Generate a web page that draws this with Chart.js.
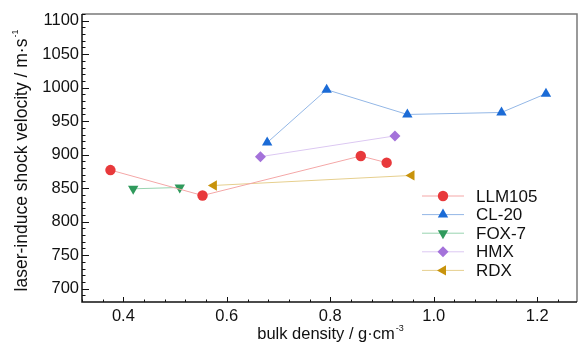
<!DOCTYPE html>
<html>
<head>
<meta charset="utf-8">
<script src="https://cdn.jsdelivr.net/npm/chart.js@4/dist/chart.umd.min.js"></script>
<style>
  html, body { margin: 0; padding: 0; background: #fff; }
  #wrap { width: 583px; height: 347px; }
</style>
</head>
<body>
<div id="wrap"><canvas id="c" width="583" height="347"></canvas></div>
<script>
// values
const seriesNames = ['LLM105', 'CL-20', 'FOX-7', 'HMX', 'RDX'];

const llm105X = [0.375, 0.553, 0.859, 0.909];
const llm105Y = [877, 839, 898, 888];

const cl20X = [0.678, 0.793, 0.949, 1.131, 1.217];
const cl20Y = [918, 997, 960, 963, 991];

const fox7X = [0.419, 0.509];
const fox7Y = [849, 851];

const hmxX = [0.665, 0.925];
const hmxY = [897, 928];

const rdxX = [0.575, 0.957];
const rdxY = [854, 869];

const xTicks = [0.4, 0.6, 0.8, 1.0, 1.2];
const yTicks = [700, 750, 800, 850, 900, 950, 1000, 1050, 1100];

const FONT = '"Liberation Sans", Arial, sans-serif';

const toPoints = (xs, ys) => xs.map((x, i) => ({ x: x, y: ys[i] }));

function makeSet(label, xs, ys, marker, line, style, rot, r) {
  return {
    label: label,
    data: toPoints(xs, ys),
    borderColor: line,
    borderWidth: 1,
    backgroundColor: marker,
    pointBackgroundColor: marker,
    pointBorderColor: marker,
    pointBorderWidth: 0,
    pointStyle: style,
    pointRotation: rot,
    pointRadius: r,
    showLine: true,
    tension: 0
  };
}

const datasets = [
  makeSet(seriesNames[0], llm105X, llm105Y, '#e8393b', '#f4a7a7', 'circle', 0, 5.2),
  makeSet(seriesNames[1], cl20X, cl20Y, '#1b6bd6', '#93b7e6', 'triangle', 0, 6),
  makeSet(seriesNames[2], fox7X, fox7Y, '#2f9a5c', '#99d4b0', 'triangle', 180, 6),
  makeSet(seriesNames[3], hmxX, hmxY, '#a472da', '#dcc8f2', 'rectRot', 0, 5.5),
  makeSet(seriesNames[4], rdxX, rdxY, '#c8930c', '#e6cf8e', 'triangle', 270, 6)
];

// frame, inward ticks, titles and legend
const framePlugin = {
  id: 'frame',
  afterDraw(chart) {
    const ctx = chart.ctx;
    const a = chart.chartArea;
    const xs = chart.scales.x;
    const ys = chart.scales.y;
    ctx.save();

    // top / right gray edges
    ctx.strokeStyle = '#7a7a7a';
    ctx.lineWidth = 1.5;
    ctx.beginPath();
    ctx.moveTo(a.left, a.top);
    ctx.lineTo(a.right, a.top);
    ctx.lineTo(a.right, a.bottom);
    ctx.stroke();

    // left / bottom black axes
    ctx.strokeStyle = '#111';
    ctx.beginPath();
    ctx.moveTo(a.left, a.top);
    ctx.lineTo(a.left, a.bottom);
    ctx.lineTo(a.right, a.bottom);
    ctx.stroke();

    // y ticks, major every 50, minor every 10
    ctx.lineWidth = 1;
    ctx.beginPath();
    for (let v = 690; v <= 1110; v += 10) {
      const py = Math.round(ys.getPixelForValue(v)) + 0.5;
      if (py < a.top || py > a.bottom) continue;
      const len = (v % 50 === 0) ? 7 : 3.5;
      ctx.moveTo(a.left, py);
      ctx.lineTo(a.left + len, py);
    }
    // x ticks, major every 0.2, minor every 0.04
    for (let i = 8; i <= 32; i++) {
      const v = i * 0.04;
      const px = Math.round(xs.getPixelForValue(v)) + 0.5;
      if (px < a.left || px > a.right) continue;
      const len = (i % 5 === 0) ? 5 : 2.5;
      ctx.moveTo(px, a.bottom);
      ctx.lineTo(px, a.bottom - len);
    }
    ctx.stroke();

    // axis titles
    ctx.fillStyle = '#111';
    ctx.textBaseline = 'alphabetic';
    ctx.font = '16.5px ' + FONT;
    const xt = 'bulk density / g\u00b7cm';
    const xw = ctx.measureText(xt).width;
    let x0 = 330 - (xw + 8) / 2;
    ctx.textAlign = 'left';
    ctx.fillText(xt, x0, 339);
    ctx.font = '9px ' + FONT;
    ctx.fillText('-3', x0 + xw + 1, 331);

    ctx.save();
    ctx.translate(27, 161);
    ctx.rotate(-Math.PI / 2);
    ctx.font = '17.5px ' + FONT;
    const yt = 'laser-induce shock velocity / m\u00b7s';
    const yw = ctx.measureText(yt).width;
    let y0 = -(yw + 8) / 2;
    ctx.fillText(yt, y0, 0);
    ctx.font = '9px ' + FONT;
    ctx.fillText('-1', y0 + yw + 1, -9);
    ctx.restore();

    // legend
    const lx1 = 422, lx2 = 464, mx = 443, tx = 476;
    chart.data.datasets.forEach((ds, i) => {
      const ly = 196 + i * 18.6;
      ctx.strokeStyle = ds.borderColor;
      ctx.lineWidth = 1;
      ctx.beginPath();
      ctx.moveTo(lx1, ly);
      ctx.lineTo(lx2, ly);
      ctx.stroke();
      ctx.fillStyle = ds.pointBackgroundColor;
      ctx.strokeStyle = ds.pointBorderColor;
      Chart.helpers.drawPoint(ctx, {
        pointStyle: ds.pointStyle,
        rotation: ds.pointRotation,
        radius: ds.pointRadius,
        borderWidth: 0
      }, mx, ly);
      ctx.fillStyle = '#111';
      ctx.font = '17px ' + FONT;
      ctx.textAlign = 'left';
      ctx.textBaseline = 'middle';
      ctx.fillText(ds.label, tx, ly + 1);
    });

    ctx.restore();
  }
};

new Chart(document.getElementById('c'), {
  type: 'scatter',
  data: { datasets: datasets },
  options: {
    responsive: false,
    animation: false,
    layout: { padding: { top: 14, right: 1, left: 0, bottom: 0 } },
    plugins: {
      legend: { display: false },
      tooltip: { enabled: false }
    },
    scales: {
      x: {
        type: 'linear',
        min: 0.32,
        max: 1.277,
        grid: { display: false, drawTicks: false },
        border: { display: false },
        afterBuildTicks: (s) => { s.ticks = xTicks.map(v => ({ value: v })); },
        afterFit: (s) => { s.height = 45; },
        ticks: {
          color: '#111',
          padding: 5,
          font: { family: FONT, size: 16.5 },
          callback: (v) => Number(v).toFixed(1)
        }
      },
      y: {
        type: 'linear',
        min: 680,
        max: 1110,
        grid: { display: false, drawTicks: false },
        border: { display: false },
        afterBuildTicks: (s) => { s.ticks = yTicks.map(v => ({ value: v })); },
        afterFit: (s) => { s.width = 82; },
        ticks: {
          color: '#111',
          padding: 3,
          font: { family: FONT, size: 16.5 },
          callback: (v) => String(v)
        }
      }
    }
  },
  plugins: [framePlugin]
});
</script>
</body>
</html>
